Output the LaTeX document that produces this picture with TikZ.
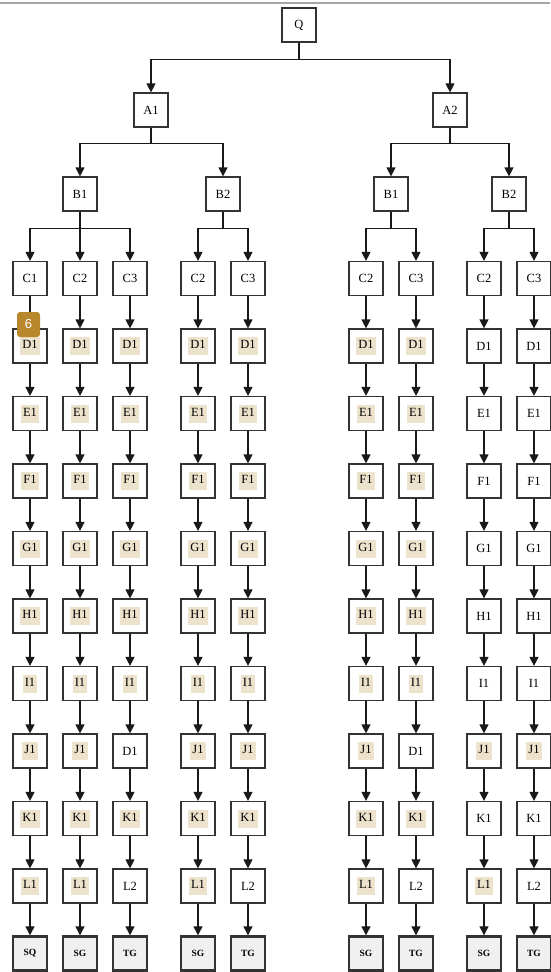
\documentclass[tikz,border=0pt]{standalone}
\usepackage{fontspec}
\setmainfont{Liberation Serif}
\newfontfamily\badgefont{Liberation Sans}
\usetikzlibrary{arrows.meta}
\definecolor{hltan}{RGB}{237,226,204}
\definecolor{badgebrown}{RGB}{184,134,43}
\newcommand{\hl}[1]{{\setlength{\fboxsep}{2pt}\colorbox{hltan}{\strut #1}}}

\begin{document}
\begin{tikzpicture}[
    x=1pt, y=-1pt,
    box/.style={rectangle, draw=black!80, line width=1.2pt, fill=white, minimum width=34pt, minimum height=34pt, inner sep=0pt, font=\fontsize{12.5}{14}\selectfont},
    goal/.style={box, line width=2.4pt, fill=gray!12, font=\fontsize{9.5}{11}\selectfont\bfseries},
    link/.style={-{Triangle[width=9pt,length=9pt]}, line width=1.2pt, draw=black!90},
    badge/.style={rectangle, rounded corners=3pt, fill=badgebrown, text=white, minimum width=23pt, minimum height=25pt, inner sep=0pt, font=\badgefont\fontsize{13}{13}\selectfont},
]
\useasboundingbox (0,0) rectangle (550,972);

% top rule
\draw[gray!70, line width=2pt] (0,3) -- (550,3);

% Root and upper levels
\node[box] (q) at (299,25) {Q};
\node[box] (a1) at (151,110) {A1};
\node[box] (a2) at (450,110) {A2};
\node[box] (a1b1) at (80,194) {B1};
\node[box] (a1b2) at (223,194) {B2};
\node[box] (a2b1) at (391,194) {B1};
\node[box] (a2b2) at (509,194) {B2};

% C row
\node[box] (c1-0) at (30,278.5) {C1};
\node[box] (c2-0) at (80,278.5) {C2};
\node[box] (c3-0) at (130,278.5) {C3};
\node[box] (c4-0) at (198,278.5) {C2};
\node[box] (c5-0) at (248,278.5) {C3};
\node[box] (c6-0) at (366,278.5) {C2};
\node[box] (c7-0) at (416,278.5) {C3};
\node[box] (c8-0) at (484,278.5) {C2};
\node[box] (c9-0) at (534,278.5) {C3};

% Tree edges
\draw[link] (q.south) -- ++(0,17) -| (a1.north);
\draw[link] (q.south) -- ++(0,17) -| (a2.north);
\draw[link] (a1.south) -- ++(0,16) -| (a1b1.north);
\draw[link] (a1.south) -- ++(0,16) -| (a1b2.north);
\draw[link] (a2.south) -- ++(0,16) -| (a2b1.north);
\draw[link] (a2.south) -- ++(0,16) -| (a2b2.north);
\foreach \c in {1,2,3}
    \draw[link] (a1b1.south) -- ++(0,17) -| (c\c-0.north);
\foreach \c in {4,5}
    \draw[link] (a1b2.south) -- ++(0,17) -| (c\c-0.north);
\foreach \c in {6,7}
    \draw[link] (a2b1.south) -- ++(0,17) -| (c\c-0.north);
\foreach \c in {8,9}
    \draw[link] (a2b2.south) -- ++(0,17) -| (c\c-0.north);

% Chains D to L
\foreach \lab [count=\r, remember=\r as \p (initially 0)] in {\hl{D1},\hl{E1},\hl{F1},\hl{G1},\hl{H1},\hl{I1},\hl{J1},\hl{K1},\hl{L1}} {
    \node[box] (c1-\r) at (30,278.5+67.5*\r) {\lab};
    \draw[link] (c1-\p) -- (c1-\r);
}
\foreach \lab [count=\r, remember=\r as \p (initially 0)] in {\hl{D1},\hl{E1},\hl{F1},\hl{G1},\hl{H1},\hl{I1},\hl{J1},\hl{K1},\hl{L1}} {
    \node[box] (c2-\r) at (80,278.5+67.5*\r) {\lab};
    \draw[link] (c2-\p) -- (c2-\r);
}
\foreach \lab [count=\r, remember=\r as \p (initially 0)] in {\hl{D1},\hl{E1},\hl{F1},\hl{G1},\hl{H1},\hl{I1},D1,\hl{K1},L2} {
    \node[box] (c3-\r) at (130,278.5+67.5*\r) {\lab};
    \draw[link] (c3-\p) -- (c3-\r);
}
\foreach \lab [count=\r, remember=\r as \p (initially 0)] in {\hl{D1},\hl{E1},\hl{F1},\hl{G1},\hl{H1},\hl{I1},\hl{J1},\hl{K1},\hl{L1}} {
    \node[box] (c4-\r) at (198,278.5+67.5*\r) {\lab};
    \draw[link] (c4-\p) -- (c4-\r);
}
\foreach \lab [count=\r, remember=\r as \p (initially 0)] in {\hl{D1},\hl{E1},\hl{F1},\hl{G1},\hl{H1},\hl{I1},\hl{J1},\hl{K1},L2} {
    \node[box] (c5-\r) at (248,278.5+67.5*\r) {\lab};
    \draw[link] (c5-\p) -- (c5-\r);
}
\foreach \lab [count=\r, remember=\r as \p (initially 0)] in {\hl{D1},\hl{E1},\hl{F1},\hl{G1},\hl{H1},\hl{I1},\hl{J1},\hl{K1},\hl{L1}} {
    \node[box] (c6-\r) at (366,278.5+67.5*\r) {\lab};
    \draw[link] (c6-\p) -- (c6-\r);
}
\foreach \lab [count=\r, remember=\r as \p (initially 0)] in {\hl{D1},\hl{E1},\hl{F1},\hl{G1},\hl{H1},\hl{I1},D1,\hl{K1},L2} {
    \node[box] (c7-\r) at (416,278.5+67.5*\r) {\lab};
    \draw[link] (c7-\p) -- (c7-\r);
}
\foreach \lab [count=\r, remember=\r as \p (initially 0)] in {D1,E1,F1,G1,H1,I1,\hl{J1},K1,\hl{L1}} {
    \node[box] (c8-\r) at (484,278.5+67.5*\r) {\lab};
    \draw[link] (c8-\p) -- (c8-\r);
}
\foreach \lab [count=\r, remember=\r as \p (initially 0)] in {D1,E1,F1,G1,H1,I1,\hl{J1},K1,L2} {
    \node[box] (c9-\r) at (534,278.5+67.5*\r) {\lab};
    \draw[link] (c9-\p) -- (c9-\r);
}

% Goal nodes
\foreach \c/\x/\g in {1/30/SQ, 2/80/SG, 3/130/TG, 4/198/SG, 5/248/TG, 6/366/SG, 7/416/TG, 8/484/SG, 9/534/TG} {
    \node[goal] (c\c-s) at (\x,953.5) {\g};
    \draw[link] (c\c-9) -- (c\c-s);
}

% Badge
\node[badge] (mark6) at (28.5,324.5) {6};

\end{tikzpicture}
\end{document}
